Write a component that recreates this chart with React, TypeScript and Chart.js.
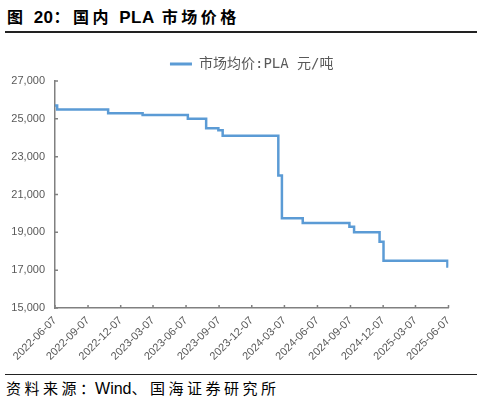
import { useEffect, useRef } from "react";
import Chart from "chart.js/auto";

// 市场均价:PLA（元/吨），阶梯变化的日期与价格
const changeDates = [
  "2022-06-07", "2022-06-13", "2022-11-02", "2023-02-06", "2023-06-12",
  "2023-08-02", "2023-09-05", "2023-09-17", "2024-02-19", "2024-02-29",
  "2024-04-27", "2024-09-04", "2024-09-17", "2024-11-27", "2024-12-08",
  "2025-06-04", "2025-06-07",
];
const prices = [
  25700, 25500, 25300, 25200, 25000,
  24500, 24400, 24100, 22000, 19750,
  19500, 19300, 19000, 18500, 17500,
  17200, 17200,
];
const tickDates = [
  "2022-06-07", "2022-09-07", "2022-12-07", "2023-03-07", "2023-06-07",
  "2023-09-07", "2023-12-07", "2024-03-07", "2024-06-07", "2024-09-07",
  "2024-12-07", "2025-03-07", "2025-06-07",
];
const seriesName = "市场均价:PLA 元/吨";

const startMs = Date.parse(tickDates[0]);
const dayOf = (s: string) => Math.round((Date.parse(s) - startMs) / 86400000);
const tickDays = tickDates.map(dayOf);

const axisGray = "#808080";
const labelGray = "#595959";

// 刻度线朝内画
const innerTicks = {
  id: "innerTicks",
  afterDatasetsDraw(chart: any) {
    const { ctx, scales } = chart;
    const x = scales.x;
    const y = scales.y;
    ctx.save();
    ctx.strokeStyle = axisGray;
    ctx.lineWidth = 1.5;
    ctx.beginPath();
    y.ticks.forEach((t: any) => {
      const py = y.getPixelForValue(t.value);
      ctx.moveTo(y.right, py);
      ctx.lineTo(y.right + 3, py);
    });
    x.ticks.forEach((t: any) => {
      const px = x.getPixelForValue(t.value);
      ctx.moveTo(px, x.top);
      ctx.lineTo(px, x.top - 3);
    });
    ctx.stroke();
    ctx.restore();
  },
};

const PriceChart = () => {
  const canvasRef = useRef<HTMLCanvasElement | null>(null);

  useEffect(() => {
    if (!canvasRef.current) return;
    const ctx = canvasRef.current.getContext("2d");
    if (!ctx) return;

    const tickFont = { family: "'Liberation Sans', Arial, sans-serif", size: 11 };

    const chart = new Chart(ctx, {
      type: "line",
      data: {
        datasets: [
          {
            label: seriesName,
            data: changeDates.map((d, i) => ({ x: dayOf(d), y: prices[i] })),
            borderColor: "#5b9bd5",
            backgroundColor: "#5b9bd5",
            borderWidth: 2.5,
            pointRadius: 0,
            stepped: "before",
          },
        ],
      },
      options: {
        animation: false,
        responsive: false,
        layout: { padding: { top: 7, left: 0, right: 35.5, bottom: 0 } },
        plugins: {
          tooltip: { enabled: false },
          legend: {
            position: "top",
            fullSize: false,
            labels: {
              boxWidth: 22,
              boxHeight: 3,
              padding: 10,
              color: labelGray,
              font: { family: "'DejaVu Sans Mono', 'Noto Sans CJK SC', monospace", size: 14 },
              generateLabels: (c: any) =>
                Chart.defaults.plugins.legend.labels
                  .generateLabels(c)
                  .map((l: any) => ({ ...l, lineWidth: 0 })),
            },
          },
        },
        scales: {
          x: {
            type: "linear",
            min: 0,
            max: tickDays[tickDays.length - 1],
            grid: { display: false, drawTicks: false },
            border: { display: true, color: axisGray, width: 1.5 },
            afterBuildTicks: (scale: any) => {
              scale.ticks = tickDays.map((v) => ({ value: v }));
            },
            afterFit: (scale: any) => {
              scale.height = 62;
            },
            ticks: {
              autoSkip: false,
              minRotation: 45,
              maxRotation: 45,
              padding: 6,
              color: labelGray,
              font: tickFont,
              callback: (_v: any, i: number) => tickDates[i],
            },
          },
          y: {
            min: 15000,
            max: 27000,
            grid: { display: false, drawTicks: false },
            border: { display: true, color: axisGray, width: 1.5 },
            afterFit: (scale: any) => {
              scale.width = 55;
            },
            ticks: {
              stepSize: 2000,
              padding: 10,
              color: labelGray,
              font: tickFont,
              callback: (v: any) => Number(v).toLocaleString("en-US"),
            },
          },
        },
      },
      plugins: [innerTicks],
    });

    return () => {
      chart.destroy();
    };
  }, []);

  return <canvas ref={canvasRef} width={484} height={330} />;
};

const App = () => {
  const cjk = "'Noto Sans CJK SC', sans-serif";
  const latin = { letterSpacing: 0.5, fontFamily: "'Liberation Sans', Arial, sans-serif" };
  return (
    <div
      style={{
        position: "fixed",
        left: 0,
        top: 0,
        width: 484,
        height: 403,
        background: "#fff",
        fontFamily: cjk,
      }}
    >
      <div
        style={{
          position: "absolute",
          left: 7,
          top: 6,
          lineHeight: "20px",
          fontSize: 16,
          fontWeight: "bold",
          letterSpacing: 3.5,
          color: "#000",
          whiteSpace: "nowrap",
        }}
      >
        图 <span style={{ ...latin, fontSize: 17 }}>20</span>：国内 <span style={{ ...latin, fontSize: 17 }}>PLA</span> 市场价格
      </div>
      <div
        style={{
          position: "absolute",
          left: 5,
          top: 31,
          width: 472,
          height: 1.5,
          background: "#222",
        }}
      />
      <div style={{ position: "absolute", left: 0, top: 40 }}>
        <PriceChart />
      </div>
      <div
        style={{
          position: "absolute",
          left: 5,
          top: 373.5,
          width: 472,
          height: 1.5,
          background: "#222",
        }}
      />
      <div
        style={{
          position: "absolute",
          left: 6,
          top: 378,
          lineHeight: "20px",
          fontSize: 15,
          letterSpacing: 3.5,
          color: "#000",
          whiteSpace: "nowrap",
        }}
      >
        资料来源<span style={{ letterSpacing: 0 }}>：</span>
        <span style={{ letterSpacing: 0, fontFamily: "'Liberation Sans', sans-serif", fontSize: 16 }}>Wind</span>、国海证券研究所
      </div>
    </div>
  );
};

export default App;
